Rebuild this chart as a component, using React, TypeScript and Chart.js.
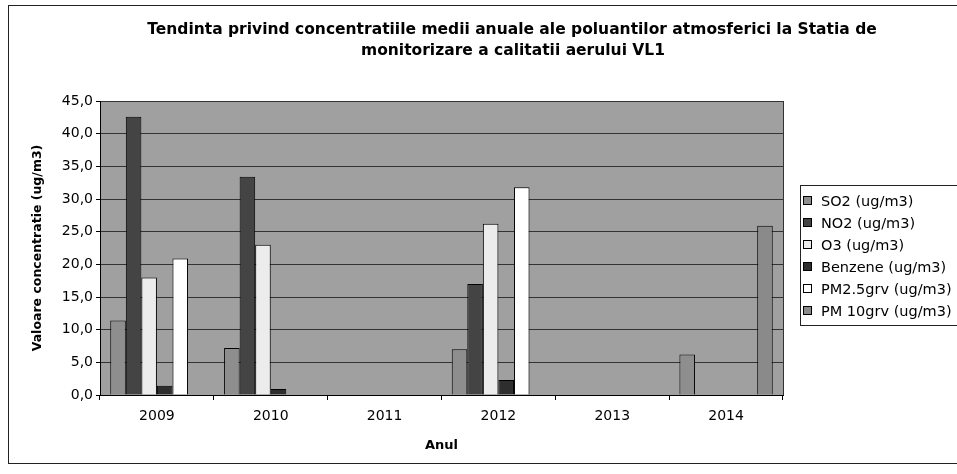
import React, { useEffect, useRef } from "react";
import { Chart, registerables } from "chart.js";

Chart.register(...registerables);

const YEARS = ["2009", "2010", "2011", "2012", "2013", "2014"];
const SERIES_NAMES = [
  "SO2 (ug/m3)",
  "NO2 (ug/m3)",
  "O3 (ug/m3)",
  "Benzene (ug/m3)",
  "PM2.5grv (ug/m3)",
  "PM 10grv (ug/m3)",
];
const SO2 = [11.4, 7.2, null, 7.0, null, 6.2];
const NO2 = [42.6, 33.4, null, 17.0, null, null];
const O3 = [18.0, 23.0, null, 26.2, null, null];
const BENZENE = [1.4, 0.9, null, 2.3, null, null];
const PM25 = [20.9, null, null, 31.8, null, null];
const PM10 = [null, null, null, null, null, 25.9];
const Y_TICK_LABELS = ["0,0", "5,0", "10,0", "15,0", "20,0", "25,0", "30,0", "35,0", "40,0", "45,0"];
const TITLE_LINES = [
  "Tendinta privind concentratiile medii anuale ale poluantilor atmosferici la Statia de",
  "monitorizare a calitatii aerului VL1",
];
const Y_TITLE = "Valoare concentratie (ug/m3)";
const X_TITLE = "Anul";

const SERIES_DATA = [SO2, NO2, O3, BENZENE, PM25, PM10];
const SERIES_COLORS = ["#8e8e8e", "#444444", "#ececec", "#2e2e2e", "#ffffff", "#8a8a8a"];
const PLOT_BG = "#a0a0a0";
const FONT = "'DejaVu Sans', sans-serif";

const decor = {
  id: "decor",
  beforeDraw(chart: any) {
    const { ctx, chartArea: a } = chart;
    ctx.save();
    ctx.fillStyle = "#ffffff";
    ctx.fillRect(0, 0, chart.width, chart.height);
    ctx.fillStyle = PLOT_BG;
    ctx.fillRect(a.left, a.top, a.right - a.left, a.bottom - a.top);
    ctx.strokeStyle = "#222222";
    ctx.lineWidth = 1;
    ctx.strokeRect(8.5, 5.5, 960, 458);
    ctx.restore();
  },
  afterDraw(chart: any) {
    const { ctx, chartArea: a } = chart;
    ctx.save();
    // plot area right edge
    ctx.strokeStyle = "#333333";
    ctx.lineWidth = 1;
    ctx.beginPath();
    ctx.moveTo(Math.round(a.right) + 0.5, a.top);
    ctx.lineTo(Math.round(a.right) + 0.5, a.bottom);
    ctx.stroke();
    // title
    ctx.fillStyle = "#000000";
    ctx.font = `bold 15.5px ${FONT}`;
    ctx.textAlign = "center";
    ctx.textBaseline = "middle";
    ctx.fillText(TITLE_LINES[0], 512, 30);
    ctx.fillText(TITLE_LINES[1], 513, 51);
    // legend
    const lx = 800.5, ly = 185.5;
    ctx.strokeStyle = "#222222";
    ctx.strokeRect(lx, ly, 170, 140);
    ctx.font = `14.5px ${FONT}`;
    ctx.textAlign = "left";
    chart.data.datasets.forEach((ds: any, i: number) => {
      const cy = 201 + 22 * i;
      ctx.fillStyle = ds.backgroundColor;
      ctx.fillRect(804, cy - 4, 7, 7);
      ctx.strokeStyle = "#000000";
      ctx.strokeRect(803.5, cy - 4.5, 8, 8);
      ctx.fillStyle = "#000000";
      ctx.fillText(ds.label, 821, cy + 1);
    });
    ctx.restore();
  },
};

export default function App() {
  const ref = useRef<HTMLCanvasElement | null>(null);
  useEffect(() => {
    if (!ref.current) return;
    const chart = new Chart(ref.current, {
      type: "bar",
      data: {
        labels: YEARS,
        datasets: SERIES_NAMES.map((name, i) => ({
          label: name,
          data: SERIES_DATA[i],
          backgroundColor: SERIES_COLORS[i],
          borderColor: "#000000",
          borderWidth: 1,
          categoryPercentage: 0.82,
          barPercentage: 1,
        })),
      },
      options: {
        animation: false,
        responsive: false,
        devicePixelRatio: 1,
        layout: { padding: { left: 0, right: 174, top: 101, bottom: 0 } },
        plugins: {
          legend: { display: false },
          title: { display: false },
          tooltip: { enabled: false },
        },
        scales: {
          x: {
            afterFit: (s: any) => { s.height = 79; },
            grid: { drawOnChartArea: false, drawTicks: true, tickLength: 5, color: "#000000", offset: true },
            border: { display: true, color: "#000000" },
            ticks: { color: "#000000", font: { family: FONT, size: 14 }, padding: 8, maxRotation: 0 },
            title: {
              display: true,
              text: X_TITLE,
              color: "#000000",
              font: { family: FONT, size: 13, weight: "bold" },
              padding: { top: 0, bottom: 21 },
            },
          },
          y: {
            min: 0,
            max: 45,
            afterFit: (s: any) => { s.width = 100; },
            ticks: {
              stepSize: 5,
              color: "#000000",
              font: { family: FONT, size: 14 },
              padding: 3,
              callback: (_v: any, i: number) => Y_TICK_LABELS[i],
            },
            grid: { color: "#333333", drawTicks: true, tickLength: 4, tickColor: "#000000" },
            border: { display: true, color: "#000000" },
            title: {
              display: true,
              text: Y_TITLE,
              color: "#000000",
              font: { family: FONT, size: 12.5, weight: "bold" },
              padding: { top: 30, bottom: 0 },
            },
          },
        },
      },
      plugins: [decor],
    } as any);
    return () => chart.destroy();
  }, []);
  return (
    <div style={{ position: "fixed", left: 0, top: 0, width: 957, height: 474, background: "#fff" }}>
      <canvas ref={ref} width={957} height={474} style={{ width: 957, height: 474, display: "block" }} />
    </div>
  );
}
